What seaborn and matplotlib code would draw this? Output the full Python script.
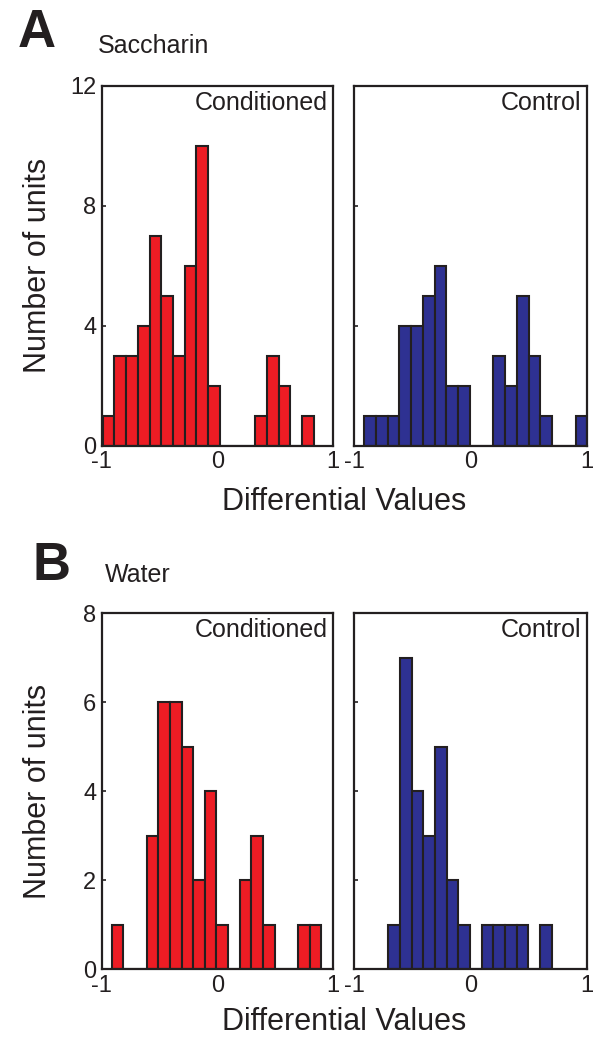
import numpy as np
import pandas as pd
import matplotlib
matplotlib.use('Agg')
import matplotlib.pyplot as plt
import seaborn as sns

# bin counts (MATLAB-style hist, bins of ~0.1 width)
sacc_cond_counts = [1, 3, 3, 4, 7, 5, 3, 6, 10, 2, 0, 0, 0, 1, 3, 2, 0, 1]
sacc_cond_start, sacc_cond_width = -0.991, 0.1013
sacc_ctrl_counts = [1, 1, 1, 4, 4, 5, 6, 2, 2, 0, 0, 3, 2, 5, 3, 1, 0, 0, 1]
sacc_ctrl_start, sacc_ctrl_width = -0.914, 0.1010
water_cond_counts = [1, 0, 0, 3, 6, 6, 5, 2, 4, 1, 0, 2, 3, 1, 0, 0, 1, 1]
water_cond_start, water_cond_width = -0.914, 0.1007
water_ctrl_counts = [1, 7, 4, 3, 5, 2, 1, 0, 1, 1, 1, 1, 0, 1]
water_ctrl_start, water_ctrl_width = -0.707, 0.1004

panel_letters = ['A', 'B']
panel_titles = ['Saccharin', 'Water']
group_labels = ['Conditioned', 'Control']
ymax = [12, 8]
yticks = [[0, 4, 8, 12], [0, 2, 4, 6, 8]]
xticks = [-1, 0, 1]

RED = '#ED1C24'
BLUE = '#2E3192'
EDGE = '#231F20'

sns.set_style('ticks')
plt.rcParams['font.family'] = ['Liberation Sans', 'DejaVu Sans']
plt.rcParams['text.color'] = EDGE
plt.rcParams['axes.labelcolor'] = EDGE
plt.rcParams['xtick.color'] = EDGE
plt.rcParams['ytick.color'] = EDGE
plt.rcParams['xtick.direction'] = 'in'
plt.rcParams['ytick.direction'] = 'in'
plt.rcParams['xtick.major.size'] = 3
plt.rcParams['ytick.major.size'] = 3

fig = plt.figure(figsize=(6.01, 10.5), dpi=100)

rows = [
    [(sacc_cond_counts, sacc_cond_start, sacc_cond_width, RED),
     (sacc_ctrl_counts, sacc_ctrl_start, sacc_ctrl_width, BLUE)],
    [(water_cond_counts, water_cond_start, water_cond_width, RED),
     (water_ctrl_counts, water_ctrl_start, water_ctrl_width, BLUE)],
]
bottoms = [0.5755, 0.0771]
heights = [0.3426, 0.339]
lefts = [0.1692, 0.5895]
widths = [0.385, 0.3867]

for r, row in enumerate(rows):
    for c, (counts, start, width, color) in enumerate(row):
        ax = fig.add_axes([lefts[c], bottoms[r], widths[c], heights[r]])
        n = len(counts)
        edges = start + width * np.arange(n + 1)
        df = pd.DataFrame({'value': (edges[:-1] + edges[1:]) / 2,
                           'count': counts})
        sns.histplot(data=df, x='value', weights='count',
                     bins=[float(e) for e in edges], ax=ax,
                     color=color, alpha=1, edgecolor=EDGE, linewidth=1.5)
        ax.set_xlim(-1, 1)
        ax.set_ylim(0, ymax[r])
        ax.set_xticks(xticks)
        ax.set_xticklabels(['-1', '0', '1'])
        ax.set_yticks(yticks[r])
        if c == 0:
            ax.set_yticklabels([str(t) for t in yticks[r]])
            ax.set_ylabel('Number of units', fontsize=22)
            ax.yaxis.set_label_coords(-0.21, 0.5)
        else:
            ax.set_yticklabels([])
            ax.set_ylabel('')
        ax.set_xlabel('')
        ax.tick_params(labelsize=17, pad=4, width=1.2)
        for sp in ax.spines.values():
            sp.set_visible(True)
            sp.set_linewidth(1.6)
            sp.set_color(EDGE)
        ax.text(0.975, 0.985, group_labels[c], transform=ax.transAxes,
                ha='right', va='top', fontsize=18)

# panel letters, titles and shared x labels
fig.text(18 / 601, 1 - 47 / 1050, panel_letters[0], fontsize=38,
         fontweight='bold', va='baseline')
fig.text(98 / 601, 1 - 53 / 1050, panel_titles[0], fontsize=18, va='baseline')
fig.text(33 / 601, 1 - 580 / 1050, panel_letters[1], fontsize=38,
         fontweight='bold', va='baseline')
fig.text(105 / 601, 1 - 582 / 1050, panel_titles[1], fontsize=18, va='baseline')
fig.text(344 / 601, 1 - 510 / 1050, 'Differential Values', fontsize=22,
         ha='center', va='baseline')
fig.text(344 / 601, 1 - 1030 / 1050, 'Differential Values', fontsize=22,
         ha='center', va='baseline')

fig.savefig('out.png', dpi=100)
